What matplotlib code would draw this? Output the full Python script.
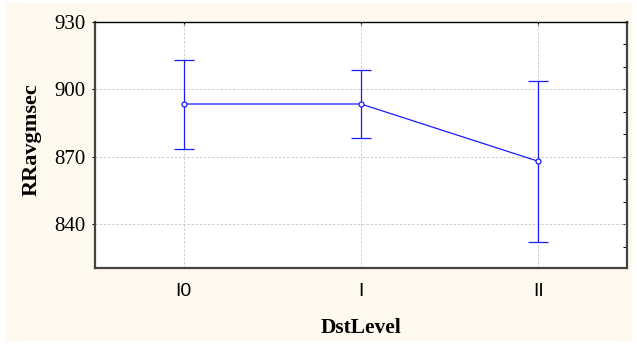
import matplotlib.pyplot as plt
from matplotlib.ticker import MultipleLocator

levels = ["I0", "I", "II"]
means = [893.5, 893.5, 868.0]
err_hi = [913.3, 908.8, 903.8]
err_lo = [873.6, 878.4, 832.2]

bg = "#fdf9ee"
blue = "#1a1aff"

plt.rcParams["font.family"] = ["Liberation Serif", "DejaVu Serif"]

fig = plt.figure(figsize=(6.37, 3.46), dpi=100, facecolor="white")
fig.patches.append(plt.Rectangle((7 / 637, 6 / 346), 624 / 637, 337 / 346,
                                 transform=fig.transFigure, color=bg, zorder=-10))
ax = fig.add_axes([95 / 637, 1 - 268 / 346, 532 / 637, 246 / 346])
ax.set_facecolor("white")

x = list(range(len(levels)))
yerr = [[m - lo for m, lo in zip(means, err_lo)],
        [hi - m for m, hi in zip(means, err_hi)]]
ax.errorbar(x, means, yerr=yerr, color=blue, lw=0.9, elinewidth=0.9,
            capsize=7, capthick=0.9, marker="o", ms=3.6, mfc="white",
            mec=blue, mew=0.9, zorder=3)

ax.set_xlim(-0.5, 2.5)
ax.set_ylim(820.5, 930)
ax.set_yticks([840, 870, 900, 930])
ax.set_xticks(x)
ax.set_xticklabels(levels, family=["Liberation Sans", "DejaVu Sans"], fontsize=14)
ax.tick_params(axis="y", labelsize=15, length=2, width=0.8, direction="out", pad=5)
ax.tick_params(axis="x", length=0, pad=11)

ax.grid(True, color="#c6c6c6", ls=(0, (3, 2)), lw=0.6)

# right side minor ticks, top ticks at categories
axr = ax.secondary_yaxis("right")
axr.yaxis.set_major_locator(MultipleLocator(10))
axr.tick_params(direction="in", length=3, width=0.8, labelright=False)
axt = ax.secondary_xaxis("top")
axt.set_xticks(x)
axt.tick_params(direction="in", length=3, width=0.8, labeltop=False)

for side in ["left", "bottom", "right"]:
    ax.spines[side].set_color("#444444")
    ax.spines[side].set_linewidth(1.6)
ax.spines["top"].set_color("black")
ax.spines["top"].set_linewidth(1.0)
axr.spines["right"].set_visible(False)
axt.spines["top"].set_visible(False)

ax.set_xlabel("DstLevel", fontsize=15.5, fontweight="bold")
ax.xaxis.set_label_coords(0.5, -0.205)
ax.set_ylabel("RRavgmsec", fontsize=16, fontweight="bold")
ax.yaxis.set_label_coords(-0.1, 0.52)

fig.savefig("out.png", dpi=100, facecolor="white")
